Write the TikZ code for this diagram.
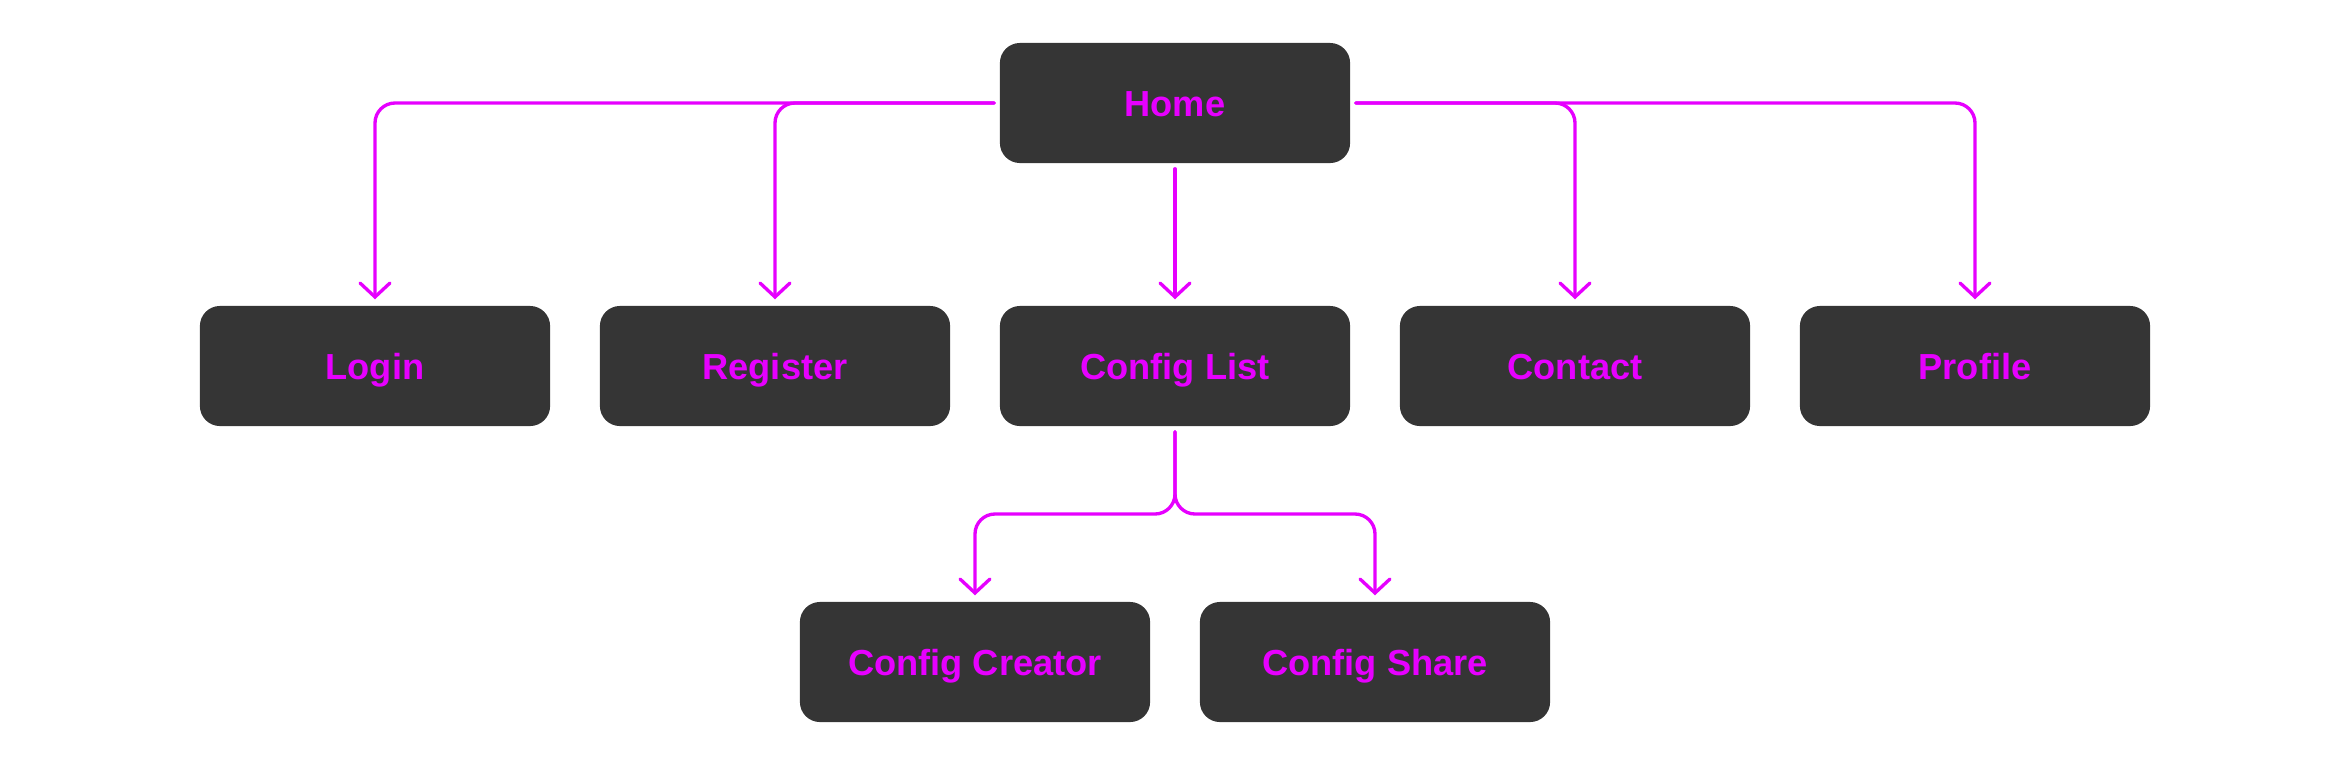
\documentclass[tikz,border=0pt]{standalone}
\usepackage{fontspec}
\setmainfont{Liberation Sans}
\usetikzlibrary{arrows.meta,positioning,calc}
\definecolor{navbox}{RGB}{53,53,53}
\definecolor{navpink}{RGB}{230,0,255}

\begin{document}
\begin{tikzpicture}[x=0.01cm,y=-0.01cm,
  page/.style={fill=navbox,rounded corners=0.2cm,minimum width=3.5cm,minimum height=1.2cm,
    inner sep=0pt,text=navpink,font=\fontsize{10.3}{12}\selectfont\bfseries,
    text height=0.26cm,text depth=0pt},
  link/.style={navpink,line width=0.95pt,rounded corners=0.2cm,line cap=round,
    -{Straight Barb[length=0.14cm,width=0.3cm,line cap=round]},
    shorten <=0.05cm,shorten >=0.06cm}]
  \useasboundingbox (0,0) rectangle (2350,766);
  % pages
  \node[page] (home) at (1175,103) {Home};
  \node[page] (login) at (375,366) {Login};
  \node[page] (register) at (775,366) {Register};
  \node[page] (cfglist) at (1175,366) {Config List};
  \node[page] (contact) at (1575,366) {Contact};
  \node[page] (profile) at (1975,366) {Profile};
  \node[page] (creator) at (975,662) {Config Creator};
  \node[page] (share) at (1375,662) {Config Share};
  \coordinate (split) at (1175,514);
  % links
  \draw[link] (home.west) -| (login.north);
  \draw[link] (home.west) -| (register.north);
  \draw[link] (home.south) -- (cfglist.north);
  \draw[link] (home.east) -| (contact.north);
  \draw[link] (home.east) -| (profile.north);
  \draw[link] (cfglist.south) -- (split) -| (creator.north);
  \draw[link] (cfglist.south) -- (split) -| (share.north);
\end{tikzpicture}
\end{document}
